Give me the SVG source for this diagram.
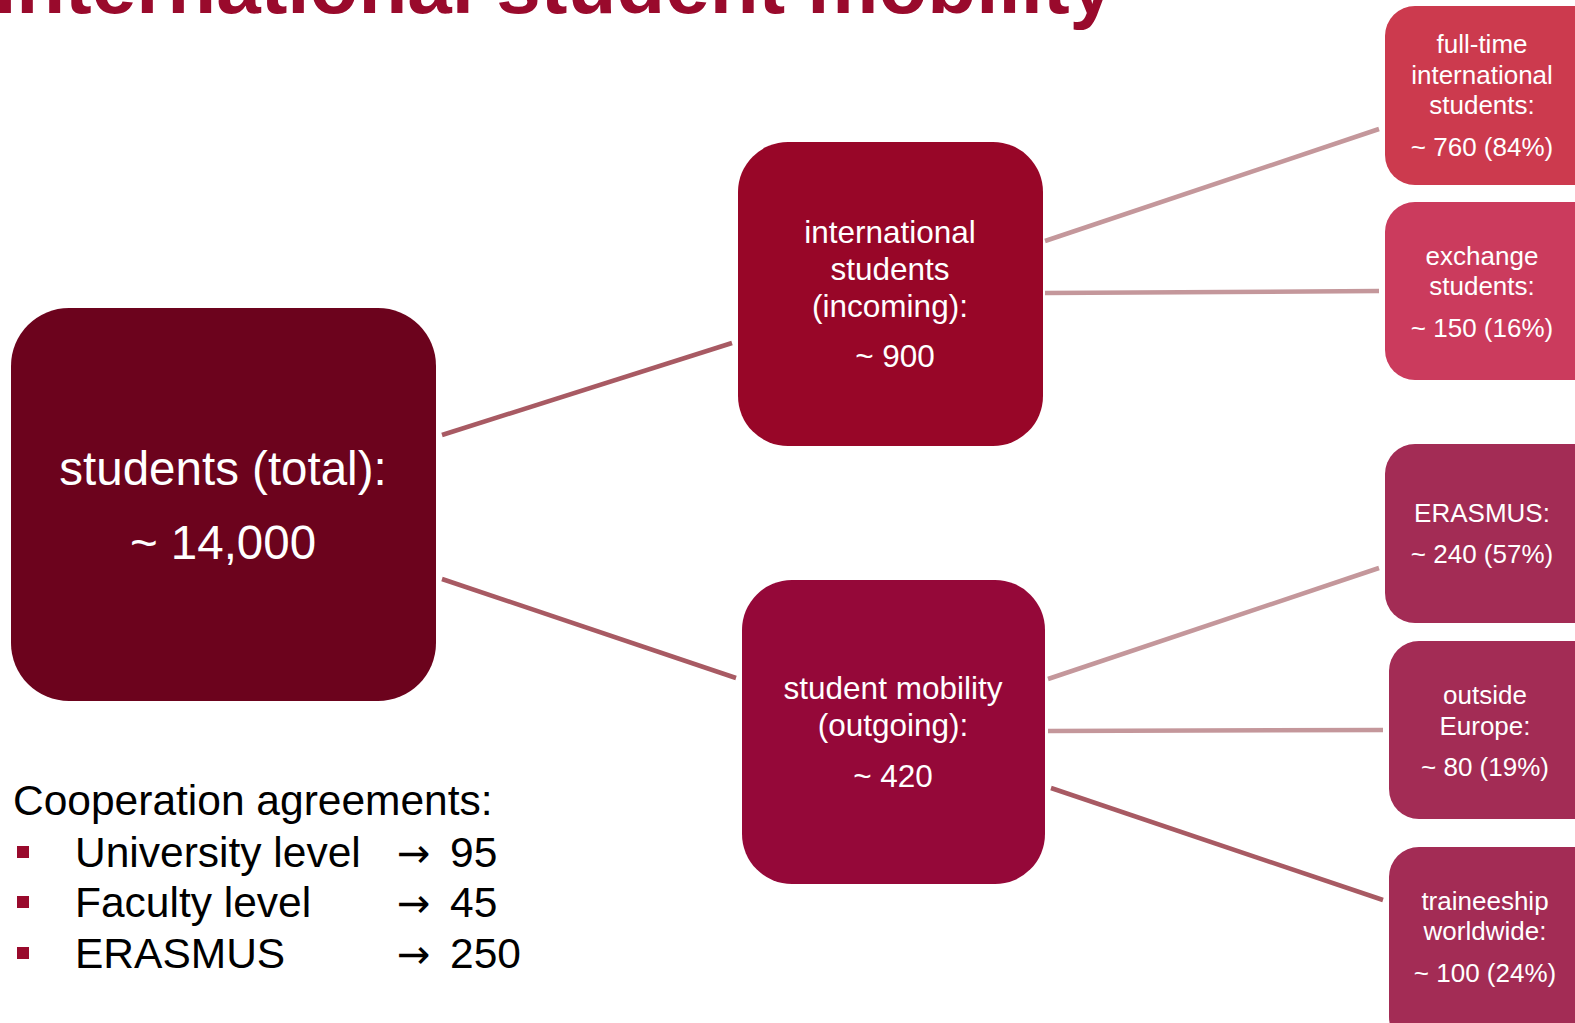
<svg xmlns="http://www.w3.org/2000/svg" width="1575" height="1023" viewBox="0 0 1575 1023">
<style>
text{font-family:"Liberation Sans",Arial,sans-serif}
.t{fill:#ffffff;text-anchor:middle}
.big{font-size:47.5px}
.mid{font-size:31.5px}
.sm{font-size:26px}
.cm{stroke:#a85a63;stroke-width:4.5;fill:none}
.cl{stroke:#c4979b;stroke-width:4.5;fill:none}
.blk{fill:#000000;font-size:42.5px}
.arr{font-family:"DejaVu Sans",sans-serif;font-size:40px}
.bul{fill:#990a2c}
</style>
<rect width="1575" height="1023" fill="#ffffff"/>
<text x="-6" y="13" font-size="80" font-weight="bold" fill="#990a2c">International student mobility</text>
<g id="connectors">
<line class="cm" x1="442" y1="435" x2="732" y2="343"/>
<line class="cm" x1="442" y1="579" x2="736" y2="678"/>
<line class="cl" x1="1045" y1="241" x2="1379" y2="129"/>
<line class="cl" x1="1045" y1="293" x2="1379" y2="291"/>
<line class="cl" x1="1048" y1="679" x2="1379" y2="568"/>
<line class="cl" x1="1048" y1="731" x2="1383" y2="730"/>
<line class="cm" x1="1051" y1="788" x2="1383" y2="900"/>
</g>
<g id="total">
<rect x="11" y="308" width="425" height="393" rx="58" fill="#6c031d"/>
<text class="t big" x="223" y="485">students (total):</text>
<text class="t big" x="223" y="559">~ 14,000</text>
</g>
<g id="incoming">
<rect x="738" y="142" width="305" height="304" rx="50" fill="#980628"/>
<text class="t mid" x="890" y="243">international</text>
<text class="t mid" x="890" y="280">students</text>
<text class="t mid" x="890" y="317">(incoming):</text>
<text class="t mid" x="895" y="367">~ 900</text>
</g>
<g id="outgoing">
<rect x="742" y="580" width="303" height="304" rx="50" fill="#950839"/>
<text class="t mid" x="893" y="699">student mobility</text>
<text class="t mid" x="893" y="736">(outgoing):</text>
<text class="t mid" x="893" y="787">~ 420</text>
</g>
<g id="fulltime">
<rect x="1385" y="6" width="230" height="179" rx="30" fill="#cc3a4e"/>
<text class="t sm" x="1482" y="53">full-time</text>
<text class="t sm" x="1482" y="84">international</text>
<text class="t sm" x="1482" y="114">students:</text>
<text class="t sm" x="1482" y="156">~ 760 (84%)</text>
</g>
<g id="exchange">
<rect x="1385" y="202" width="230" height="178" rx="30" fill="#cb3b5d"/>
<text class="t sm" x="1482" y="265">exchange</text>
<text class="t sm" x="1482" y="295">students:</text>
<text class="t sm" x="1482" y="337">~ 150 (16%)</text>
</g>
<g id="erasmus">
<rect x="1385" y="444" width="230" height="179" rx="30" fill="#a32c55"/>
<text class="t sm" x="1482" y="522">ERASMUS:</text>
<text class="t sm" x="1482" y="563">~ 240 (57%)</text>
</g>
<g id="outside">
<rect x="1389" y="641" width="230" height="178" rx="30" fill="#a32c55"/>
<text class="t sm" x="1485" y="704">outside</text>
<text class="t sm" x="1485" y="735">Europe:</text>
<text class="t sm" x="1485" y="776">~ 80 (19%)</text>
</g>
<g id="traineeship">
<rect x="1389" y="847" width="230" height="200" rx="30" fill="#a32c55"/>
<text class="t sm" x="1485" y="910">traineeship</text>
<text class="t sm" x="1485" y="940">worldwide:</text>
<text class="t sm" x="1485" y="982">~ 100 (24%)</text>
</g>
<g id="cooperation">
<text class="blk" x="13" y="815">Cooperation agreements:</text>
<rect class="bul" x="17" y="846" width="12" height="12"/>
<rect class="bul" x="17" y="896" width="12" height="12"/>
<rect class="bul" x="17" y="947" width="12" height="12"/>
<text class="blk" y="867"><tspan x="75">University level</tspan><tspan class="arr" x="397">→</tspan><tspan x="450">95</tspan></text>
<text class="blk" y="917"><tspan x="75">Faculty level</tspan><tspan class="arr" x="397">→</tspan><tspan x="450">45</tspan></text>
<text class="blk" y="968"><tspan x="75">ERASMUS</tspan><tspan class="arr" x="397">→</tspan><tspan x="450">250</tspan></text>
</g>
</svg>
